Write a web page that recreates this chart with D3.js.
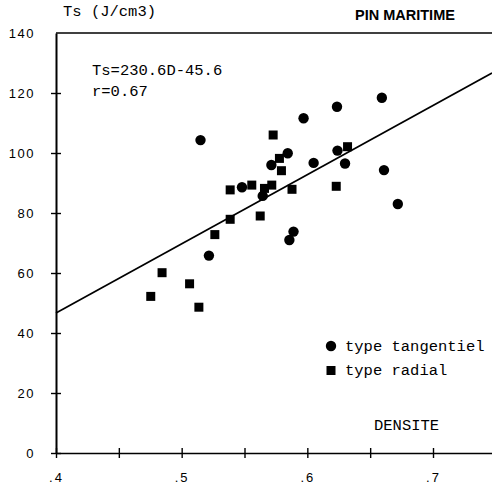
<!DOCTYPE html>
<html><head><meta charset="utf-8">
<script src="https://cdn.jsdelivr.net/npm/d3@7"></script>
<style>body{margin:0;background:#fff}svg{display:block}</style>
</head><body>
<svg id="c" width="492" height="488"></svg>
<script>
const tangentielD  = [0.515,0.597,0.6236,0.6593,0.5844,0.5714,0.605,0.624,0.630,0.661,0.672,0.548,0.5645,0.589,0.5857,0.5217];
const tangentielTs = [104.3,111.6,115.4,118.4,99.9,96.0,96.7,100.8,96.5,94.3,83.0,88.6,85.7,73.8,71.0,65.8];
const radialD  = [0.5728,0.5778,0.5794,0.632,0.623,0.5386,0.5558,0.5659,0.5717,0.5878,0.5386,0.5625,0.5264,0.4844,0.5063,0.4754,0.5137];
const radialTs = [106.0,98.2,94.1,102.1,88.9,87.7,89.3,88.2,89.3,87.9,77.9,79.0,72.8,60.1,56.4,52.2,48.6];
const regression = [230.6, -45.6]; // slope, intercept
const xTicks = [0.4,0.45,0.5,0.55,0.6,0.65,0.7];
const xTickLabels = [".4","",".5","",".6","",".7"];
const yTicks = [0,20,40,60,80,100,120,140];
const title = "PIN MARITIME";
const yTitle = "Ts (J/cm3)";
const xTitle = "DENSITE";
const eqText = ["Ts=230.6D-45.6","r=0.67"];
const legendLabels = ["type tangentiel","type radial"];

const svg = d3.select("#c");
const x = d3.scaleLinear().domain([0.4,0.7]).range([56,433]);
const y = d3.scaleLinear().domain([0,140]).range([453,33]);
const xEnd = x.invert(492);
const mono = "'Liberation Mono','DejaVu Sans Mono',monospace";
const sans = "'Liberation Sans',Arial,sans-serif";

// top frame line
svg.append("line").attr("x1",x(0.4)).attr("x2",492).attr("y1",y(140)).attr("y2",y(140))
  .attr("stroke","#000").attr("stroke-width",1.4);

// x axis
const xAxisScale = d3.scaleLinear().domain([0.4,xEnd]).range([x(0.4),492]);
const gx = svg.append("g").attr("transform",`translate(0,${y(0)})`)
  .call(d3.axisBottom(xAxisScale).tickValues(xTicks).tickSize(0).tickFormat(""));
gx.select(".domain").attr("stroke","#000").attr("stroke-width",1.6);
gx.selectAll(".tick line").attr("y1",-5).attr("y2",5).attr("stroke","#000").attr("stroke-width",1.4);
gx.selectAll(".tick").append("text").text((d,i)=>xTickLabels[i])
  .attr("y",29).attr("x",0).attr("fill","#000").attr("text-anchor","middle")
  .attr("font-family",sans).attr("font-size",13).attr("letter-spacing",2);

// y axis
const gy = svg.append("g").attr("transform",`translate(${x(0.4)},0)`)
  .call(d3.axisLeft(y).tickValues(yTicks).tickSize(0).tickFormat(""));
gy.select(".domain").attr("stroke","#000").attr("stroke-width",2);
gy.selectAll(".tick line").attr("x1",-5).attr("x2",5).attr("stroke","#000").attr("stroke-width",1.4)
  .filter(d=>d===140).remove();
gy.selectAll(".tick").append("text").text(d=>d)
  .attr("x",-21).attr("dy","0.35em").attr("fill","#000").attr("text-anchor","end")
  .attr("font-family",sans).attr("font-size",13).attr("letter-spacing",1.5);

// regression line
const xr = [0.4, xEnd];
svg.append("line")
  .attr("x1",x(xr[0])).attr("y1",y(regression[0]*xr[0]+regression[1]))
  .attr("x2",x(xr[1])).attr("y2",y(regression[0]*xr[1]+regression[1]))
  .attr("stroke","#000").attr("stroke-width",1.7);

// points
svg.append("g").selectAll("circle").data(tangentielD).join("circle")
  .attr("cx",d=>x(d)).attr("cy",(d,i)=>y(tangentielTs[i])).attr("r",5.2).attr("fill","#000");
svg.append("g").selectAll("rect").data(radialD).join("rect")
  .attr("x",d=>x(d)-4.5).attr("y",(d,i)=>y(radialTs[i])-4.5).attr("width",9).attr("height",9).attr("fill","#000");

// texts
svg.append("text").attr("x",63).attr("y",16).text(yTitle)
  .attr("font-family",mono).attr("font-size",15.5).attr("fill","#000");
svg.append("text").attr("x",355).attr("y",20).text(title)
  .attr("font-family",sans).attr("font-weight","bold").attr("font-size",14.5).attr("fill","#000");
eqText.forEach((t,i)=>{
  svg.append("text").attr("x",92).attr("y",75+i*21).text(t)
    .attr("font-family",mono).attr("font-size",15.5).attr("fill","#000");
});
svg.append("text").attr("x",374).attr("y",430).text(xTitle)
  .attr("font-family",mono).attr("font-size",15.5).attr("fill","#000");

// legend
svg.append("circle").attr("cx",331).attr("cy",346).attr("r",5.2).attr("fill","#000");
svg.append("rect").attr("x",326.5).attr("y",366).attr("width",9).attr("height",9).attr("fill","#000");
legendLabels.forEach((t,i)=>{
  svg.append("text").attr("x",345).attr("y",351+i*24).text(t)
    .attr("font-family",mono).attr("font-size",15.5).attr("fill","#000");
});
</script>
</body></html>
